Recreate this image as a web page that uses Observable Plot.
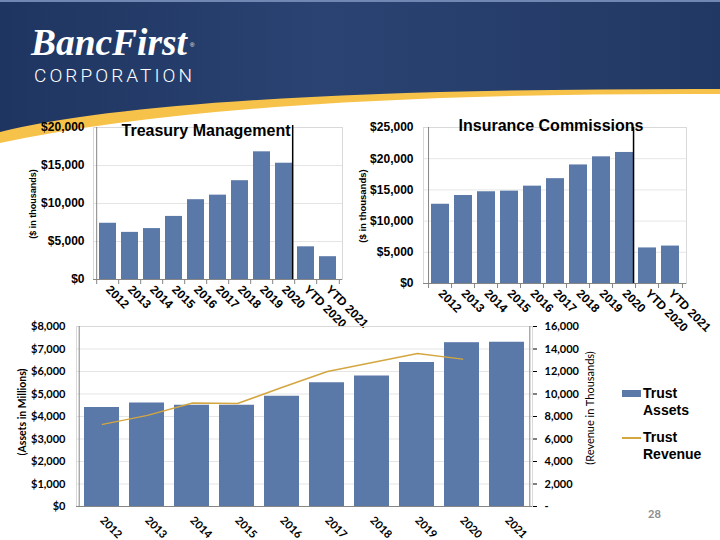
<!DOCTYPE html>
<html><head><meta charset="utf-8">
<script src="https://cdn.jsdelivr.net/npm/d3@7"></script>
<script src="https://cdn.jsdelivr.net/npm/@observablehq/plot@0.6"></script>
<style>
html,body{margin:0;padding:0;}
body{width:720px;height:540px;position:relative;overflow:hidden;background:#fff;font-family:"Liberation Sans",Arial,sans-serif;}
.abs{position:absolute;}
.title{position:absolute;font:bold 16px/16px "Liberation Sans",Arial,sans-serif;color:#000;white-space:nowrap;transform:translateX(-50%);}
.vt{position:absolute;white-space:nowrap;transform:translate(-50%,-50%) rotate(-90deg);color:#000;}
.leg{position:absolute;font:bold 14px/17px "Liberation Sans",Arial,sans-serif;color:#000;}
</style>
</head><body>
<svg class="abs" style="left:0;top:0" width="720" height="150">
  <defs>
    <linearGradient id="hg" x1="0" x2="1" y1="0" y2="0">
      <stop offset="0" stop-color="#1f3561"/>
      <stop offset="0.45" stop-color="#2a4372"/>
      <stop offset="1" stop-color="#223864"/>
    </linearGradient>
  </defs>
  <path d="M0,0H720V94Q240,92 0,143Z" fill="#f7c24a"/>
  <path d="M0,0H720V89Q180,88 0,132Z" fill="url(#hg)"/>
  <rect x="0" y="0" width="720" height="2" fill="#6f87b2"/>
  <text x="31" y="55" font-family="Liberation Serif, serif" font-style="italic" font-weight="bold" font-size="37" fill="#fff" textLength="156" lengthAdjust="spacingAndGlyphs">BancFirst</text>
  <text x="190" y="47" font-family="Liberation Sans, sans-serif" font-size="6" fill="#fff">®</text>
  <text x="34" y="82" font-family="Roboto, Liberation Sans, sans-serif" font-weight="300" font-size="19" fill="#fff" textLength="158" lengthAdjust="spacing">CORPORATION</text>
</svg>
<div id="tm" class="abs" style="left:0;top:115px"></div>
<div id="ic" class="abs" style="left:355px;top:115px"></div>
<div id="tr1" class="abs" style="left:0;top:315px"></div>
<div id="tr2" class="abs" style="left:0;top:315px"></div>

<div class="title" style="left:206px;top:123px">Treasury Management</div>
<div class="title" style="left:551px;top:118px">Insurance Commissions</div>
<div class="vt" style="left:33px;top:204px;font:bold 9px 'Liberation Sans',Arial,sans-serif">($ in thousands)</div>
<div class="vt" style="left:362px;top:206px;font:bold 9.5px 'Liberation Sans',Arial,sans-serif">($ in thousands)</div>
<div class="vt" style="left:22px;top:412px;font:bold 10.5px Lato,sans-serif">(Assets in Millions)</div>
<div class="vt" style="left:589px;top:408px;font:11px Lato,sans-serif">(Revenue in Thousands)</div>

<div class="abs" style="left:622px;top:390px;width:19px;height:7px;background:#5a78a8"></div>
<div class="leg" style="left:643px;top:385px">Trust<br>Assets</div>
<div class="abs" style="left:622px;top:437px;width:19px;height:1.5px;background:#d4a640"></div>
<div class="leg" style="left:643px;top:429px">Trust<br>Revenue</div>
<div class="abs" style="left:648px;top:507px;font:bold 11px Lato,sans-serif;color:#8c8c8c">28</div>

<script>
const tmCats = ["2012","2013","2014","2015","2016","2017","2018","2019","2020","YTD 2020","YTD 2021"];
const tmValues = [7400,6200,6700,8300,10500,11100,13000,16800,15300,4300,3000];
const tmTicks = [0,5000,10000,15000,20000];

const icCats = ["2012","2013","2014","2015","2016","2017","2018","2019","2020","YTD 2020","YTD 2021"];
const icValues = [12700,14100,14700,14800,15600,16800,19000,20300,21000,5700,6000];
const icTicks = [0,5000,10000,15000,20000,25000];

const trYears = ["2012","2013","2014","2015","2016","2017","2018","2019","2020","2021"];
const trAssets = [4400,4600,4500,4500,4900,5500,5800,6400,7280,7300];
const trRevenue = [7300,8100,9200,9150,10600,12000,12800,13600,13100,null];
const assetTicks = [0,1000,2000,3000,4000,5000,6000,7000,8000];
const revenueTicks = [0,2000,4000,6000,8000,10000,12000,14000,16000];

const BAR = "#5a78a8", LINE = "#d4a640", AXIS = "#868686", GRID = "#d9d9d9";
const money = d => "$" + d3.format(",")(d);

function barChart(cats, values, ticks, o) {
  const step = (o.width - o.ml - o.mr) / cats.length;
  const data = cats.map((c, i) => ({c, v: values[i]}));
  const last = cats[cats.length - 1];
  return Plot.plot({
    width: o.width, height: o.height,
    marginLeft: o.ml, marginRight: o.mr, marginTop: o.mt, marginBottom: o.mb,
    style: {background: "none", fontFamily: "'Liberation Sans', Arial, sans-serif", fontSize: "12px", fontWeight: "bold", color: "#000", overflow: "visible"},
    x: {domain: cats, paddingInner: 0.22, paddingOuter: 0.11, label: null, tickSize: 0, tickPadding: o.xpad, tickRotate: 45},
    y: {domain: [ticks[0], ticks[ticks.length - 1]], ticks: ticks, tickFormat: money, label: null, tickSize: 0, tickPadding: o.ypad, grid: true},
    marks: [
      Plot.frame({stroke: GRID}),
      Plot.barY(data, {x: "c", y: "v", fill: BAR}),
      Plot.ruleY([0], {stroke: AXIS}),
      Plot.ruleX([cats[0]], {dx: -step / 2, stroke: AXIS}),
      Plot.ruleX(cats, {x: d => d, y1: 0, y2: 0, dx: -step / 2, insetBottom: -5, stroke: AXIS}),
      Plot.ruleX([last], {x: d => d, y1: 0, y2: 0, dx: step / 2, insetBottom: -5, stroke: AXIS}),
      Plot.ruleX(["YTD 2020"], {dx: -step / 2 - 2, stroke: "#000", strokeWidth: 1.5, insetTop: o.divTop})
    ]
  });
}

document.getElementById("tm").append(barChart(tmCats, tmValues, tmTicks,
  {width: 355, height: 215, ml: 93, mr: 13, mt: 12, mb: 51, xpad: 8, ypad: 9, divTop: -2}));
document.getElementById("ic").append(barChart(icCats, icValues, icTicks,
  {width: 365, height: 215, ml: 68, mr: 34, mt: 12, mb: 47, xpad: 8, ypad: 10, divTop: 0}));

const trData = trYears.map((y, i) => ({year: y, assets: trAssets[i], revenue: trRevenue[i]}));
const B = {width: 600, height: 225, marginLeft: 76, marginRight: 68, marginTop: 11, marginBottom: 34};
const stepB = (B.width - B.marginLeft - B.marginRight) / trYears.length;
const bStyle = {background: "none", fontFamily: "Lato, sans-serif", fontSize: "11px", fontWeight: "bold", color: "#000", overflow: "visible"};

document.getElementById("tr1").append(Plot.plot({
  ...B, style: bStyle,
  x: {domain: trYears, paddingInner: 0.22, paddingOuter: 0.11, label: null, tickSize: 0, tickPadding: 12, tickRotate: 45},
  y: {domain: [0, 8000], ticks: assetTicks, tickFormat: money, label: null, tickSize: 0, tickPadding: 11, grid: true},
  marks: [
    Plot.frame({stroke: GRID}),
    Plot.barY(trData, {x: "year", y: "assets", fill: BAR}),
    Plot.ruleY([0], {stroke: AXIS}),
    Plot.ruleX([trYears[0]], {dx: -stepB / 2, stroke: AXIS}),
    Plot.ruleX([trYears[trYears.length - 1]], {dx: stepB / 2, stroke: AXIS})
  ]
}));

document.getElementById("tr2").append(Plot.plot({
  ...B, style: {...bStyle},
  x: {domain: trYears, paddingInner: 0.22, paddingOuter: 0.11, axis: null},
  y: {domain: [0, 16000], ticks: revenueTicks, tickFormat: d => d === 0 ? "-" : d3.format(",")(d), axis: "right", label: null, tickSize: 4, tickPadding: 8},
  marks: [
    Plot.line(trData, {x: "year", y: "revenue", stroke: LINE, strokeWidth: 1.5})
  ]
}));
</script>
</body></html>
